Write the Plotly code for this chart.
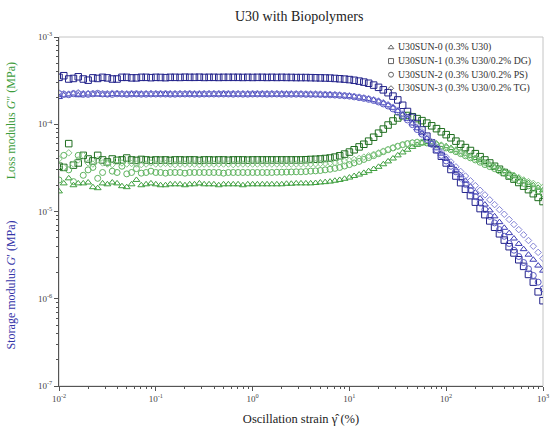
import plotly.graph_objects as go

# Oscillation strain (%), 20 points per decade
strain = [0.01, 0.0112, 0.0126, 0.0141, 0.0158, 0.0178, 0.02, 0.0224, 0.0251, 0.0282,
          0.0316, 0.0355, 0.0398, 0.0447, 0.0501, 0.0562, 0.0631, 0.0708, 0.0794, 0.0891,
          0.1, 0.112, 0.126, 0.141, 0.158, 0.178, 0.2, 0.224, 0.251, 0.282,
          0.316, 0.355, 0.398, 0.447, 0.501, 0.562, 0.631, 0.708, 0.794, 0.891,
          1, 1.12, 1.26, 1.41, 1.58, 1.78, 2.0, 2.24, 2.51, 2.82,
          3.16, 3.55, 3.98, 4.47, 5.01, 5.62, 6.31, 7.08, 7.94, 8.91,
          10, 11.2, 12.6, 14.1, 15.8, 17.8, 20, 22.4, 25.1, 28.2,
          31.6, 35.5, 39.8, 44.7, 50.1, 56.2, 63.1, 70.8, 79.4, 89.1,
          100, 112, 126, 141, 158, 178, 200, 224, 251, 282,
          316, 355, 398, 447, 501, 562, 631, 708, 794, 891,
          1000]

samples = ["U30SUN-0 (0.3% U30)",
           "U30SUN-1 (0.3% U30/0.2% DG)",
           "U30SUN-2 (0.3% U30/0.2% PS)",
           "U30SUN-3 (0.3% U30/0.2% TG)"]

UNIT = 1e-5  # moduli below are given in units of 10^-5 MPa

# Storage modulus G'
gp_sun0 = [20.5, 21.5, 22, 22.5, 21.5, 22, 22.5, 22, 22, 21.8, 21.8, 22.2, 22.2, 22, 22, 22.1, 22, 22, 22.1, 22, 22,
           22.1, 22.1, 22, 22, 22, 22, 22.1, 22, 22, 22, 22, 22.1, 22, 22.1, 22, 22, 22, 22, 22, 22,
           22, 22, 22, 22, 22, 22, 22, 22, 22, 22, 21.9, 21.9, 21.8, 21.8, 21.7, 21.7, 21.5, 21.4, 21.2, 21.0,
           20.7, 20.3, 19.9, 19.5, 18.9, 18.2, 17.4, 16.5, 15.4, 14.2, 12.9, 11.5, 10.2, 9.0, 7.9, 6.9, 6.0, 5.3, 4.6, 4.0,
           3.45, 3.0, 2.6, 2.25, 1.93, 1.65, 1.41, 1.2, 1.03, 0.88, 0.755, 0.65, 0.565, 0.49, 0.425, 0.37, 0.32, 0.28, 0.24, 0.21]
gp_sun1 = [34.5, 36, 33, 33.5, 35, 33, 32, 34, 33.5, 34.5, 34, 33, 33, 34.5, 34.5, 34, 34, 34.5, 34.5, 34.2, 34.5,
           34.4, 34.2, 34.5, 34.5, 34.4, 34.6, 34.5, 34.5, 34.6, 34.4, 34.5, 34.5, 34.4, 34.5, 34.5, 34.5, 34.5, 34.4, 34.5, 34.4,
           34.5, 34.5, 34.4, 34.5, 34.4, 34.5, 34.4, 34.4, 34.3, 34.3, 34.3, 34.2, 34.1, 34.0, 33.9, 33.8, 33.5, 33.2, 32.9, 32.5,
           31.9, 31.2, 30.4, 29.5, 28.1, 26.5, 24.8, 23.0, 21.0, 19.0, 16.5, 14.0, 12.0, 10.2, 8.6, 7.3, 6.1, 5.1, 4.3, 3.6,
           3.03, 2.55, 2.14, 1.8, 1.52, 1.28, 1.08, 0.92, 0.78, 0.66, 0.555, 0.47, 0.395, 0.335, 0.28, 0.235, 0.19, 0.155, 0.12, 0.095]
gp_sun2 = [22.5, 22, 21.8, 22.4, 22.4, 22, 22, 22.3, 22.6, 22.2, 22.1, 22, 22.3, 22.2, 22, 22.2, 22.2, 22.1, 22.1, 22.2, 22.2,
           22.2, 22.2, 22.1, 22.1, 22.2, 22.2, 22.2, 22.1, 22.1, 22.2, 22.2, 22.2, 22.2, 22.2, 22.2, 22.1, 22.2, 22.1, 22.1, 22.2,
           22.2, 22.2, 22.1, 22.2, 22.2, 22.1, 22.1, 22.1, 22.1, 22.1, 22, 22, 22, 21.9, 21.8, 21.7, 21.6, 21.4, 21.2, 21.0,
           20.6, 20.2, 19.8, 19.3, 18.7, 18.0, 17.1, 16.2, 15.0, 13.8, 12.5, 11.2, 9.9, 8.7, 7.7, 6.7, 5.9, 5.1, 4.4, 3.8,
           3.3, 2.85, 2.42, 2.05, 1.74, 1.48, 1.25, 1.05, 0.88, 0.74, 0.62, 0.52, 0.43, 0.36, 0.305, 0.26, 0.22, 0.185, 0.155, 0.13]
gp_sun3 = [22.8, 22.4, 22.2, 22.7, 23, 22.5, 22.4, 22.6, 22.7, 22.4, 22.5, 22.7, 22.6, 22.5, 22.4, 22.5, 22.6, 22.4, 22.5, 22.6, 22.5,
           22.5, 22.6, 22.5, 22.5, 22.5, 22.5, 22.6, 22.5, 22.5, 22.5, 22.5, 22.5, 22.5, 22.6, 22.5, 22.6, 22.5, 22.5, 22.5, 22.5,
           22.5, 22.5, 22.5, 22.5, 22.5, 22.5, 22.4, 22.4, 22.4, 22.4, 22.3, 22.3, 22.3, 22.2, 22.1, 22.0, 21.9, 21.7, 21.5, 21.2,
           20.9, 20.5, 20.1, 19.7, 19.1, 18.5, 17.7, 16.8, 15.7, 14.5, 13.1, 11.8, 10.5, 9.3, 8.2, 7.2, 6.3, 5.5, 4.8, 4.2,
           3.7, 3.25, 2.88, 2.55, 2.25, 1.98, 1.75, 1.55, 1.36, 1.2, 1.05, 0.93, 0.81, 0.71, 0.62, 0.54, 0.465, 0.4, 0.34, 0.29]

# Loss modulus G''
gpp_sun0 = [1.7, 2.1, 2.4, 2.0, 2.1, 2.1, 2.15, 1.9, 1.85, 2.1, 2.05, 2.15, 2.1, 1.95, 1.9, 2.05, 2.3, 2.0, 2.05, 2.1, 2.05,
            2.0, 2.0, 2.05, 2.05, 2.05, 2.0, 2.05, 2.05, 2.1, 2.05, 2.05, 2.05, 2.0, 2.05, 2.05, 2.05, 2.05, 2.0, 2.05, 2.05,
            2.05, 2.05, 2.05, 2.05, 2.05, 2.05, 2.08, 2.08, 2.1, 2.1, 2.1, 2.1, 2.12, 2.15, 2.17, 2.2, 2.25, 2.3, 2.37, 2.45,
            2.55, 2.65, 2.77, 2.9, 3.07, 3.25, 3.48, 3.75, 4.05, 4.4, 4.75, 5.1, 5.5, 5.8, 6.1, 6.25, 6.2, 6.0, 5.8, 5.6,
            5.35, 5.1, 4.85, 4.6, 4.35, 4.1, 3.87, 3.65, 3.45, 3.25, 3.07, 2.9, 2.72, 2.55, 2.4, 2.25, 2.12, 2.0, 1.87, 1.75]
gpp_sun1 = [3.3, 3.2, 6.0, 3.4, 3.6, 4.4, 4.0, 3.8, 4.4, 3.9, 3.7, 4.0, 3.85, 3.9, 4.1, 3.9, 3.85, 3.95, 3.9, 3.85, 3.9,
            3.88, 3.9, 3.85, 3.9, 3.9, 3.88, 3.9, 3.9, 3.85, 3.9, 3.9, 3.88, 3.9, 3.9, 3.87, 3.9, 3.9, 3.9, 3.88, 3.9,
            3.9, 3.9, 3.9, 3.9, 3.9, 3.9, 3.9, 3.9, 3.9, 3.9, 3.92, 3.95, 3.97, 4.0, 4.05, 4.1, 4.2, 4.35, 4.55, 4.8,
            5.1, 5.5, 5.9, 6.4, 7.1, 7.9, 8.8, 9.8, 10.9, 11.8, 12.5, 12.6, 12.2, 11.6, 11.0, 10.3, 9.6, 8.9, 8.2, 7.6,
            7.0, 6.4, 5.9, 5.4, 5.0, 4.6, 4.25, 3.9, 3.6, 3.3, 3.05, 2.8, 2.55, 2.35, 2.15, 1.95, 1.78, 1.6, 1.45, 1.3]
gpp_sun2 = [2.3, 4.4, 3.0, 2.2, 4.4, 2.6, 3.0, 3.2, 2.4, 2.8, 3.6, 2.9, 2.8, 3.3, 2.7, 2.8, 3.1, 2.75, 2.8, 2.9, 2.8,
            2.8, 2.75, 2.8, 2.8, 2.8, 2.75, 2.8, 2.8, 2.8, 2.8, 2.8, 2.8, 2.8, 2.75, 2.8, 2.8, 2.8, 2.8, 2.8, 2.8,
            2.8, 2.8, 2.8, 2.8, 2.82, 2.82, 2.83, 2.84, 2.85, 2.85, 2.87, 2.9, 2.92, 2.95, 3.0, 3.05, 3.12, 3.2, 3.32, 3.45,
            3.6, 3.75, 3.95, 4.15, 4.37, 4.6, 4.85, 5.1, 5.35, 5.6, 5.82, 6.0, 6.12, 6.2, 6.17, 6.1, 5.97, 5.8, 5.6, 5.35,
            5.1, 4.85, 4.6, 4.35, 4.12, 3.9, 3.67, 3.45, 3.27, 3.1, 2.92, 2.75, 2.57, 2.4, 2.25, 2.1, 1.97, 1.85, 1.72, 1.6]
gpp_sun3 = [4.0, 3.2, 4.7, 3.5, 3.9, 4.4, 3.6, 3.5, 3.9, 3.6, 3.5, 3.45, 3.9, 3.6, 3.5, 3.55, 3.5, 3.45, 3.5, 3.6, 3.5,
            3.5, 3.55, 3.5, 3.45, 3.5, 3.5, 3.5, 3.5, 3.45, 3.5, 3.5, 3.5, 3.5, 3.5, 3.5, 3.45, 3.5, 3.5, 3.5, 3.5,
            3.5, 3.5, 3.5, 3.5, 3.5, 3.5, 3.5, 3.5, 3.5, 3.5, 3.5, 3.5, 3.52, 3.55, 3.57, 3.6, 3.65, 3.7, 3.77, 3.85,
            3.95, 4.05, 4.2, 4.35, 4.52, 4.7, 4.92, 5.15, 5.37, 5.6, 5.8, 6.0, 6.15, 6.25, 6.25, 6.2, 6.07, 5.9, 5.7, 5.5,
            5.25, 5.0, 4.75, 4.5, 4.27, 4.05, 3.82, 3.6, 3.42, 3.25, 3.07, 2.9, 2.75, 2.6, 2.45, 2.3, 2.2, 2.1, 2.0, 1.9]

x_ticks = [0.01, 0.1, 1, 10, 100, 1000]
x_tick_text = ["10<sup>-2</sup>", "10<sup>-1</sup>", "10<sup>0</sup>",
               "10<sup>1</sup>", "10<sup>2</sup>", "10<sup>3</sup>"]
y_ticks = [1e-7, 1e-6, 1e-5, 1e-4, 1e-3]
y_tick_text = ["10<sup>-7</sup>", "10<sup>-6</sup>", "10<sup>-5</sup>",
               "10<sup>-4</sup>", "10<sup>-3</sup>"]

# minor tick positions: 2..9 within each decade
x_minor = [m * d for d in x_ticks[:-1] for m in range(2, 10)]
y_minor = [m * d for d in y_ticks[:-1] for m in range(2, 10)]

symbols = ["triangle-up-open", "square-open", "circle-open", "diamond-open"]
sizes = [6, 6.5, 6, 5]
blues = ["#3c3cb4", "#22228a", "#5a5ac4", "#8484d6"]
greens = ["#3f9f3f", "#1f6e1f", "#5fb35f", "#88c888"]

storage = [gp_sun0, gp_sun1, gp_sun2, gp_sun3]
loss = [gpp_sun0, gpp_sun1, gpp_sun2, gpp_sun3]
for series in storage + loss:
    assert len(series) == len(strain)

fig = go.Figure()

for k in range(4):
    fig.add_trace(go.Scatter(
        x=strain, y=[v * UNIT for v in loss[k]], mode="markers", showlegend=False,
        marker=dict(symbol=symbols[k], size=sizes[k], color=greens[k],
                    line=dict(width=1, color=greens[k]))))
for k in range(4):
    fig.add_trace(go.Scatter(
        x=strain, y=[v * UNIT for v in storage[k]], mode="markers", showlegend=False,
        marker=dict(symbol=symbols[k], size=sizes[k], color=blues[k],
                    line=dict(width=1, color=blues[k]))))

serif = "Liberation Serif, Times New Roman, serif"

# compact legend: symbols on an overlay axis in plot-fraction units, labels as annotations
leg_x = 0.686
leg_y = [0.97, 0.931, 0.892, 0.853]
legend_sizes = [5, 5, 5, 4]
for k in range(4):
    fig.add_trace(go.Scatter(
        x=[leg_x], y=[leg_y[k]], xaxis="x2", yaxis="y2", mode="markers",
        showlegend=False, hoverinfo="skip",
        marker=dict(symbol=symbols[k], size=legend_sizes[k], color="#666666",
                    line=dict(width=1, color="#666666"))))

annotations = [
    dict(text="Loss modulus <i>G</i>″ (MPa)", xref="paper", yref="paper",
         x=-0.1, y=0.76, textangle=-90, showarrow=False,
         xanchor="center", yanchor="middle",
         font=dict(family=serif, size=12, color="#3c9c3c")),
    dict(text="Storage modulus <i>G</i>′ (MPa)", xref="paper", yref="paper",
         x=-0.1, y=0.29, textangle=-90, showarrow=False,
         xanchor="center", yanchor="middle",
         font=dict(family=serif, size=12, color="#3434a8")),
]
for k in range(4):
    annotations.append(dict(
        text=samples[k], xref="paper", yref="paper", x=leg_x + 0.01, y=leg_y[k],
        xanchor="left", yanchor="middle", showarrow=False,
        font=dict(family=serif, size=9.8, color="#333333")))

fig.update_layout(
    width=552, height=429,
    margin=dict(l=59, r=9, t=37, b=43),
    paper_bgcolor="white", plot_bgcolor="white",
    font=dict(family=serif, color="#333333"),
    title=dict(text="U30 with Biopolymers", x=0.542, xanchor="center",
               y=0.962, yanchor="middle",
               font=dict(family=serif, size=14, color="#222222")),
    showlegend=False,
    xaxis=dict(
        type="log", range=[-2, 3], automargin=False,
        tickvals=x_ticks, ticktext=x_tick_text,
        ticks="outside", ticklen=4, tickcolor="#555555",
        showline=True, linecolor="#555555", linewidth=1,
        showgrid=False, zeroline=False,
        tickfont=dict(family=serif, size=9, color="#444444"),
        minor=dict(tickvals=x_minor, ticks="outside", ticklen=2, tickcolor="#555555",
                   showgrid=False),
        title=dict(text="Oscillation strain γ̂ (%)", standoff=11,
                   font=dict(family=serif, size=12.5, color="#222222")),
    ),
    yaxis=dict(
        type="log", range=[-7, -3], automargin=False,
        tickvals=y_ticks, ticktext=y_tick_text,
        ticks="outside", ticklen=4, tickcolor="#555555",
        showline=True, linecolor="#555555", linewidth=1,
        showgrid=False, zeroline=False,
        tickfont=dict(family=serif, size=9, color="#444444"),
        minor=dict(tickvals=y_minor, ticks="outside", ticklen=2, tickcolor="#555555",
                   showgrid=False),
    ),
    xaxis2=dict(overlaying="x", range=[0, 1], visible=False, fixedrange=True),
    yaxis2=dict(overlaying="y", range=[0, 1], visible=False, fixedrange=True),
    shapes=[dict(type="rect", xref="paper", yref="paper", x0=0, x1=1, y0=0, y1=1,
                 line=dict(color="#c4c4c4", width=1), layer="below")],
    annotations=annotations,
)

fig.write_html("out.html")
